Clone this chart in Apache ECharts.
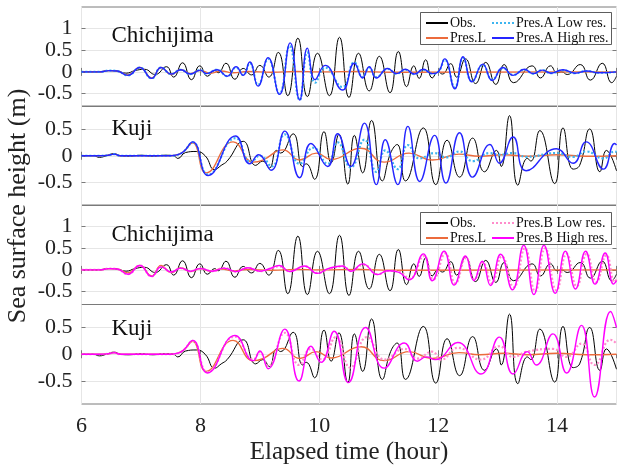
<!DOCTYPE html>
<html><head><meta charset="utf-8">
<script src="https://cdn.jsdelivr.net/npm/echarts@6/dist/echarts.min.js"></script>
<style>html,body{margin:0;padding:0;background:#fff}#c{width:618px;height:467px}</style>
</head><body><div id="c"></div>
<script>
// ---- data (time in hours, sea surface height in m), read at peaks/troughs ----
const xTicks = [6, 8, 10, 12, 14];
const yTicksChichi = [-0.5, 0, 0.5, 1];
const yTicksKuji = [-0.5, 0, 0.5];
const panelNames = ['Chichijima', 'Kuji', 'Chichijima', 'Kuji'];

const chiObs = [[6,0],[6.3,0],[6.45,0.03],[6.6,0.02],[6.75,-0.03],[6.9,0.03],[7.06,0.06],[7.24,-0.06],[7.43,0.12],[7.55,-0.12],[7.7,0.21],[7.85,-0.18],[7.99,0.14],[8.12,-0.1],[8.24,0.03],[8.3,-0.02],[8.43,0.2],[8.58,-0.17],[8.72,0.08],[8.86,-0.07],[9.0,0.15],[9.15,-0.12],[9.31,0.45],[9.47,-0.55],[9.64,0.78],[9.8,-0.57],[9.97,0.43],[10.17,-0.55],[10.34,0.8],[10.5,-0.59],[10.66,0.43],[10.84,-0.44],[11.01,0.36],[11.19,-0.48],[11.33,0.47],[11.47,-0.34],[11.59,0.14],[11.68,-0.15],[11.79,0.28],[11.9,-0.14],[12.0,0.0],[12.07,-0.05],[12.21,0.19],[12.31,-0.12],[12.46,0.3],[12.63,-0.27],[12.8,0.22],[12.97,-0.29],[13.11,0.17],[13.27,-0.25],[13.58,0.14],[13.72,-0.14],[13.89,0.14],[14.0,-0.02],[14.08,0.0],[14.17,-0.06],[14.39,0.17],[14.56,-0.19],[14.76,0.2],[14.92,-0.25],[15,-0.1]];
const chiPresL = [[6,0],[6.3,0],[6.47,0.03],[6.6,0.02],[6.78,-0.07],[6.98,0.1],[7.18,-0.14],[7.34,0.1],[7.51,-0.06],[7.67,0.05],[7.83,-0.04],[8.0,0.03],[8.17,-0.03],[8.35,0.02],[8.55,-0.02],[8.8,0.01],[9.2,-0.01],[9.6,0.01],[10,0],[10.7,0.01],[11.2,-0.01],[15,0]];
const chiALow = [[6,0],[6.3,0],[6.47,0.03],[6.6,0.02],[6.78,-0.08],[6.98,0.1],[7.18,-0.15],[7.34,0.1],[7.51,-0.05],[7.67,0.05],[7.83,-0.05],[8.0,0.04],[8.1,-0.04],[8.28,0.05],[8.45,-0.1],[8.6,0.1],[8.72,-0.07],[8.83,0.2],[8.97,-0.3],[9.14,0.3],[9.33,-0.5],[9.5,0.6],[9.67,-0.65],[9.8,0.45],[9.93,-0.25],[10.1,0.1],[10.39,-0.35],[10.59,0.22],[10.73,-0.12],[10.84,0.1],[10.96,-0.12],[11.15,0.07],[11.3,-0.04],[11.45,0.05],[11.6,-0.05],[11.75,0.05],[11.9,-0.04],[12.0,0.0],[12.11,0.28],[12.28,-0.36],[12.42,0.32],[12.57,-0.22],[12.75,0.16],[12.91,-0.18],[13.09,0.09],[13.26,-0.07],[13.45,0.05],[13.6,-0.04],[13.75,0.04],[13.9,-0.03],[14.1,0.04],[14.3,-0.03],[14.5,0.02],[14.7,-0.02],[15,0]];
const chiAHigh = [[6,0],[6.3,0],[6.47,0.03],[6.6,0.02],[6.78,-0.08],[6.98,0.1],[7.18,-0.15],[7.34,0.1],[7.51,-0.05],[7.67,0.05],[7.83,-0.05],[8.0,0.04],[8.1,-0.04],[8.28,0.05],[8.45,-0.1],[8.6,0.12],[8.72,-0.08],[8.83,0.23],[8.97,-0.33],[9.14,0.33],[9.33,-0.52],[9.51,0.67],[9.67,-0.65],[9.8,0.55],[9.93,-0.18],[10.1,0.15],[10.39,-0.42],[10.59,0.2],[10.73,-0.14],[10.84,0.12],[10.96,-0.14],[11.15,0.08],[11.3,-0.04],[11.45,0.06],[11.6,-0.05],[11.75,0.06],[11.9,-0.04],[12.0,0.0],[12.11,0.3],[12.28,-0.39],[12.42,0.35],[12.57,-0.23],[12.75,0.18],[12.91,-0.2],[13.09,0.1],[13.26,-0.08],[13.45,0.06],[13.6,-0.04],[13.75,0.04],[13.9,-0.03],[14.1,0.05],[14.3,-0.03],[14.5,0.02],[14.7,-0.02],[15,0]];
const kujiObs = [[6,0],[6.2,0],[6.3,-0.03],[6.42,0.0],[6.55,0.04],[6.65,0.0],[6.8,-0.01],[7.0,0.01],[7.2,-0.01],[7.4,0.01],[7.55,0.0],[7.62,-0.05],[7.75,0.06],[7.93,0.08],[8.08,0.0],[8.24,-0.26],[8.35,-0.18],[8.45,-0.1],[8.72,0.27],[8.93,-0.18],[9.05,-0.1],[9.16,-0.23],[9.28,0.1],[9.35,0.05],[9.56,0.41],[9.72,-0.2],[9.78,-0.15],[9.92,-0.44],[10.08,0.45],[10.2,-0.13],[10.33,0.4],[10.48,-0.53],[10.59,0.38],[10.73,-0.32],[10.88,0.66],[11.06,-0.47],[11.2,0.05],[11.31,0.21],[11.45,-0.47],[11.75,0.52],[11.96,-0.54],[12.15,0.29],[12.36,-0.4],[12.58,0.33],[12.78,-0.3],[12.98,0.1],[13.06,-0.2],[13.2,0.75],[13.34,-0.55],[13.5,-0.05],[13.56,-0.1],[13.71,0.47],[13.96,-0.52],[14.1,0.52],[14.27,-0.25],[14.38,-0.18],[14.55,0.5],[14.72,-0.3],[14.83,0.1],[15,-0.28]];
const kujiPresL = [[6,0],[6.3,0],[6.45,0.01],[6.55,0.03],[6.65,0],[7.5,0],[7.62,0.02],[7.72,0.08],[7.87,0.24],[8.1,-0.32],[8.55,0.26],[8.89,-0.12],[9.05,-0.08],[9.39,0.11],[9.67,-0.08],[9.95,0.05],[10.2,-0.07],[10.7,0.14],[11.09,-0.12],[11.51,0.05],[11.9,-0.08],[12.35,0.03],[12.7,-0.01],[13.1,0.02],[13.5,-0.01],[14.0,0.02],[14.5,-0.01],[15,0]];
const kujiALow = [[6,0],[6.3,0],[6.45,0.01],[6.55,0.03],[6.65,0],[7.5,0],[7.62,0.02],[7.72,0.08],[7.87,0.25],[8.13,-0.35],[8.59,0.33],[8.85,-0.12],[9.0,0.0],[9.2,-0.2],[9.42,0.4],[9.67,-0.15],[9.9,0.15],[10.14,-0.15],[10.31,0.25],[10.53,-0.22],[10.76,0.3],[10.96,-0.3],[11.11,0.1],[11.32,-0.25],[11.49,0.2],[11.69,-0.05],[11.94,0.05],[12.13,-0.03],[12.36,0.08],[12.58,-0.1],[12.87,0.05],[13.03,0.02],[13.26,0.05],[13.48,-0.02],[13.99,0.05],[14.27,-0.02],[14.49,0.08],[14.78,-0.05],[14.97,0.08],[15,0.07]];
const kujiAHigh = [[6,0],[6.3,0],[6.45,0.01],[6.55,0.03],[6.65,0],[7.5,0],[7.62,0.02],[7.72,0.08],[7.87,0.26],[8.13,-0.37],[8.59,0.37],[8.83,-0.15],[8.98,0.02],[9.19,-0.27],[9.42,0.46],[9.67,-0.41],[9.86,0.23],[10.14,-0.2],[10.31,0.41],[10.53,-0.2],[10.76,0.61],[10.96,-0.54],[11.11,0.3],[11.32,-0.54],[11.49,0.55],[11.69,-0.48],[11.94,0.38],[12.13,-0.51],[12.36,0.43],[12.58,-0.4],[12.87,0.21],[13.03,-0.14],[13.26,0.35],[13.48,-0.28],[13.99,0.13],[14.27,-0.14],[14.49,0.26],[14.78,-0.25],[14.97,0.23],[15,0.2]];
const chiBLow = [[6,0],[6.3,0],[6.47,0.03],[6.6,0.02],[6.78,-0.1],[6.98,0.1],[7.18,-0.15],[7.34,0.07],[7.51,-0.05],[7.67,0.04],[7.83,-0.03],[8.0,0.03],[8.2,-0.03],[8.4,0.04],[8.6,-0.04],[8.8,0.05],[9.0,-0.03],[9.15,0.02],[9.33,0.08],[9.5,-0.03],[9.76,0.08],[9.98,-0.07],[10.16,0.02],[10.4,0.08],[10.54,-0.03],[10.74,0.12],[10.99,-0.1],[11.16,-0.02],[11.34,-0.04],[11.52,-0.2],[11.76,0.32],[11.92,-0.22],[12.12,0.38],[12.29,-0.31],[12.47,0.28],[12.61,-0.22],[12.75,0.17],[12.9,-0.31],[13.07,0.31],[13.27,-0.4],[13.46,0.5],[13.63,-0.5],[13.8,0.5],[13.99,-0.47],[14.16,0.37],[14.33,-0.38],[14.5,0.37],[14.66,-0.28],[14.83,0.34],[14.97,-0.28],[15,-0.22]];
const chiBHigh = [[6,0],[6.3,0],[6.47,0.03],[6.6,0.02],[6.78,-0.1],[6.98,0.1],[7.18,-0.15],[7.34,0.07],[7.51,-0.05],[7.67,0.04],[7.83,-0.03],[8.0,0.03],[8.2,-0.03],[8.4,0.04],[8.6,-0.04],[8.8,0.05],[9.0,-0.03],[9.15,0.02],[9.33,0.1],[9.5,-0.04],[9.75,0.09],[9.97,-0.08],[10.15,0.03],[10.39,0.09],[10.53,-0.03],[10.73,0.14],[10.98,-0.11],[11.15,-0.02],[11.33,-0.05],[11.51,-0.23],[11.75,0.37],[11.9,-0.25],[12.1,0.43],[12.27,-0.35],[12.46,0.32],[12.6,-0.25],[12.74,0.2],[12.88,-0.36],[13.05,0.36],[13.25,-0.46],[13.44,0.57],[13.61,-0.57],[13.78,0.57],[13.97,-0.54],[14.14,0.43],[14.31,-0.44],[14.48,0.43],[14.64,-0.33],[14.81,0.39],[14.95,-0.33],[15,-0.25]];
const kujiBLow = [[6,0],[6.3,0],[6.45,0.01],[6.55,0.03],[6.65,0],[7.5,0],[7.62,0.02],[7.72,0.08],[7.87,0.25],[8.12,-0.33],[8.58,0.33],[8.89,-0.1],[9.0,0.04],[9.14,-0.22],[9.42,0.4],[9.66,-0.2],[9.86,0.1],[10.05,-0.1],[10.28,0.32],[10.52,-0.25],[10.8,0.32],[11.1,-0.1],[11.43,0.1],[11.65,-0.08],[11.9,0.05],[12.05,-0.1],[12.33,0.12],[12.72,-0.1],[13.03,0.15],[13.26,-0.05],[13.5,0.05],[13.93,0.1],[14.16,-0.05],[14.41,0.2],[14.63,-0.2],[14.9,0.27],[15,0.2]];
const kujiBHigh = [[6,0],[6.3,0],[6.45,0.01],[6.55,0.03],[6.65,0],[7.5,0],[7.62,0.02],[7.72,0.08],[7.87,0.26],[8.12,-0.35],[8.58,0.35],[8.89,-0.12],[9.0,0.06],[9.14,-0.27],[9.42,0.47],[9.66,-0.5],[9.86,0.15],[10.03,-0.15],[10.25,0.43],[10.49,-0.53],[10.78,0.5],[11.09,-0.26],[11.43,0.21],[11.65,-0.13],[11.8,-0.05],[11.95,-0.1],[12.33,0.22],[12.72,-0.37],[13.03,0.32],[13.26,-0.37],[13.5,0.05],[13.65,-0.2],[13.93,0.38],[14.16,-0.35],[14.41,0.54],[14.63,-0.8],[14.9,0.8],[15,0.5]];

// ---- styles / layout ----
const FONT = "'Liberation Serif','DejaVu Serif',serif";
const C = {obs:'#000000', presL:'#EC6B3C', aLow:'#3DB5F0', aHigh:'#2525FF', bLow:'#FF8CCB', bHigh:'#FF00FF'};
const tops = [7, 106, 205, 304.5];
const H = 99.5;
const yRanges = [[-0.8,1.5],[-0.93,0.93],[-0.8,1.5],[-0.93,0.93]];
const AX = '#7a7a7a';
const labelStyle = {color: '#222', fontFamily: FONT, fontSize: 22, margin: 9, hideOverlap: false};

const grids = [], xAxes = [], yAxes = [];
for (let i = 0; i < 4; i++) {
  grids.push({left: 81.5, right: 1.5, top: tops[i], height: H, show: true, borderColor: AX, borderWidth: 1, backgroundColor: 'transparent'});
  xAxes.push({type: 'value', gridIndex: i, min: 6, max: 15, interval: 2,
    axisLine: {show: false}, axisTick: {show: true, inside: true, length: 4, lineStyle: {color: AX}},
    splitLine: {show: true, lineStyle: {color: '#e6e6e6', width: 1}},
    axisLabel: {show: i === 3, showMaxLabel: false, color: '#222', fontFamily: FONT, fontSize: 22, margin: 11},
    name: i === 3 ? 'Elapsed time (hour)' : '', nameLocation: 'middle', nameGap: 36,
    nameTextStyle: {color: '#222', fontFamily: FONT, fontSize: 25}});
  const yt = (i % 2 === 0) ? yTicksChichi : yTicksKuji;
  // labels split over two stacked left axes so that none of them is dropped as overlapping
  const setA = yt.filter((v, k) => k % 2 === 0), setB = yt.filter((v, k) => k % 2 === 1);
  yAxes.push({type: 'value', gridIndex: i, min: yRanges[i][0], max: yRanges[i][1],
    axisLine: {show: false},
    axisTick: {show: true, inside: true, length: 4, customValues: yt, lineStyle: {color: AX}},
    axisLabel: Object.assign({customValues: setA}, labelStyle),
    splitLine: {show: true, lineStyle: {color: '#e6e6e6', width: 1}}});
  yAxes.push({type: 'value', gridIndex: i, position: 'left', offset: 0, min: yRanges[i][0], max: yRanges[i][1],
    axisLine: {show: false}, axisTick: {show: false}, splitLine: {show: false},
    axisLabel: Object.assign({customValues: setB}, labelStyle)});
}
// mirrored tick marks on top and right of every panel (box style)
for (let i = 0; i < 4; i++) {
  const yt = (i % 2 === 0) ? yTicksChichi : yTicksKuji;
  xAxes.push({type: 'value', gridIndex: i, position: 'top', min: 6, max: 15, interval: 2,
    axisLine: {show: false}, axisLabel: {show: false}, splitLine: {show: false},
    axisTick: {show: true, inside: true, length: 4, lineStyle: {color: AX}}});
  yAxes.push({type: 'value', gridIndex: i, position: 'right', min: yRanges[i][0], max: yRanges[i][1],
    axisLine: {show: false}, axisLabel: {show: false}, splitLine: {show: false},
    axisTick: {show: true, inside: true, length: 4, customValues: yt, lineStyle: {color: AX}}});
}

function line(name, data, gi, color, width, type) {
  return {type: 'line', name: name, data: data, xAxisIndex: gi, yAxisIndex: gi * 2, smooth: 0.5,
    symbol: 'none', showSymbol: false, z: 2, animation: false,
    lineStyle: {color: color, width: width, type: type || 'solid'}, itemStyle: {color: color}};
}

const series = [
  line('Obs.', chiObs, 0, C.obs, 1),
  line('Pres.L', chiPresL, 0, C.presL, 1.4),
  line('Pres.A Low res.', chiALow, 0, C.aLow, 2.2, [2, 2]),
  line('Pres.A High res.', chiAHigh, 0, C.aHigh, 1.4),
  line('Obs.', kujiObs, 1, C.obs, 1),
  line('Pres.L', kujiPresL, 1, C.presL, 1.4),
  line('Pres.A Low res.', kujiALow, 1, C.aLow, 2.2, [2, 2]),
  line('Pres.A High res.', kujiAHigh, 1, C.aHigh, 1.4),
  line('Obs.', chiObs, 2, C.obs, 1),
  line('Pres.L', chiPresL, 2, C.presL, 1.4),
  line('Pres.B Low res.', chiBLow, 2, C.bLow, 2.2, [2, 2]),
  line('Pres.B High res.', chiBHigh, 2, C.bHigh, 1.4),
  line('Obs.', kujiObs, 3, C.obs, 1),
  line('Pres.L', kujiPresL, 3, C.presL, 1.4),
  line('Pres.B Low res.', kujiBLow, 3, C.bLow, 2.2, [2, 2]),
  line('Pres.B High res.', kujiBHigh, 3, C.bHigh, 1.4)
];

function legend(data, left, top) {
  return {data: data, orient: 'vertical', left: left, top: top, itemWidth: 22, itemHeight: 14, itemGap: 1,
    padding: 0, selectedMode: false, z: 10,
    itemStyle: {color: 'rgba(0,0,0,0)', borderWidth: 0, opacity: 0},
    textStyle: {fontFamily: FONT, fontSize: 14, color: '#111', padding: [0, 0, 0, -3]}};
}
const legends = [
  legend(['Obs.', 'Pres.L'], 425, 16), legend(['Pres.A Low res.', 'Pres.A High res.'], 491, 16),
  legend(['Obs.', 'Pres.L'], 425, 216), legend(['Pres.B Low res.', 'Pres.B High res.'], 491, 216)
];

const labelY = [35.5, 129, 235, 328.5];
const graphic = [
  {type: 'rect', shape: {x: 420.5, y: 12.5, width: 191, height: 32}, style: {fill: '#fff', stroke: '#333', lineWidth: 0.8}, z: 5},
  {type: 'rect', shape: {x: 420.5, y: 212.5, width: 191, height: 32}, style: {fill: '#fff', stroke: '#333', lineWidth: 0.8}, z: 5},
  {type: 'text', x: 18, y: 206, rotation: Math.PI / 2, z: 10,
    style: {text: 'Sea surface height (m)', fontFamily: FONT, fontSize: 26, fill: '#222', textAlign: 'center', textVerticalAlign: 'middle'}}
];
panelNames.forEach((n, i) => graphic.push({type: 'text', x: 111.5, y: labelY[i], z: 10,
  style: {text: n, fontFamily: FONT, fontSize: 23, fill: '#111', textAlign: 'left', textVerticalAlign: 'middle'}}));

const chart = echarts.init(document.getElementById('c'), null, {renderer: 'canvas'});
chart.setOption({animation: false, backgroundColor: '#fff', grid: grids, xAxis: xAxes, yAxis: yAxes,
  legend: legends, series: series, graphic: graphic});
</script></body></html>
